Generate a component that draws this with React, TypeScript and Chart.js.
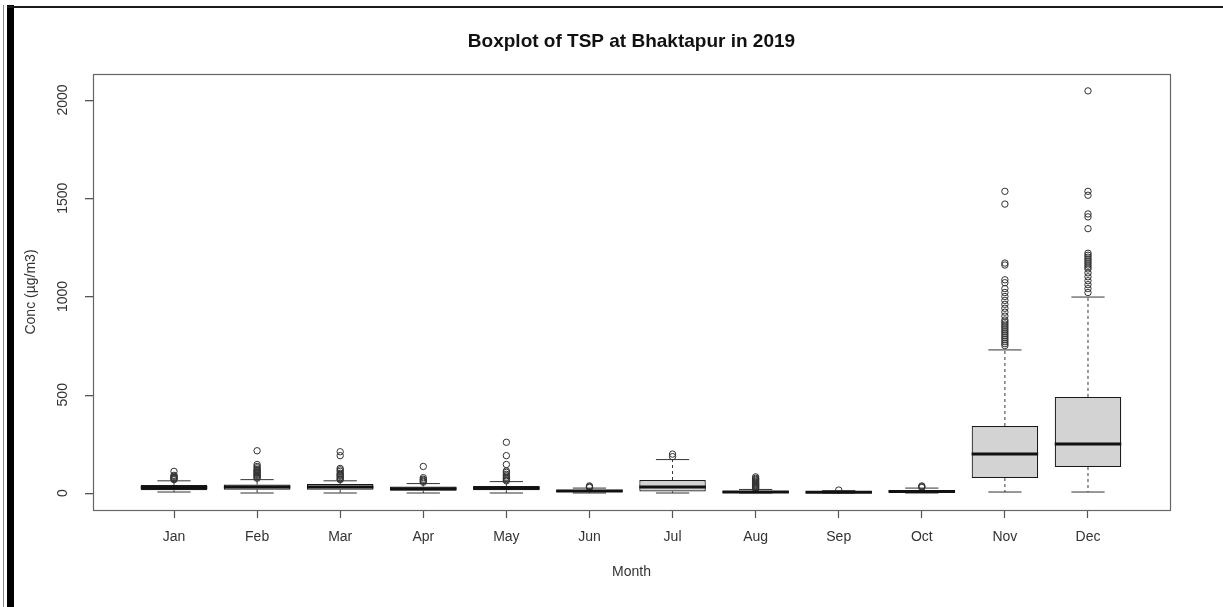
import { useEffect, useRef } from 'react';
import { Chart, registerables } from 'chart.js';

Chart.register(...registerables);

const months = ['Jan', 'Feb', 'Mar', 'Apr', 'May', 'Jun', 'Jul', 'Aug', 'Sep', 'Oct', 'Nov', 'Dec'];
const monthPositions = [1, 2, 3, 4, 5, 6, 7, 8, 9, 10, 11, 12];
const lowerWhisker = [5, 0, 0, 0, 0, 0, 0, 0, 0, 0, 5, 5];
const q1 = [14, 17, 17, 11, 14, 5, 8, 2, 2, 3, 76, 132];
const median = [28, 30, 30, 22, 25, 10, 30, 5, 4, 8, 198, 249];
const q3 = [41, 43, 46, 33, 36, 16, 66, 10, 8, 15, 341, 489];
const upperWhisker = [62, 68, 62, 48, 58, 25, 170, 18, 12, 25, 728, 997];
const outliers: number[][] = [
  [68, 72, 75, 80, 85, 90, 110],
  [75, 80, 85, 90, 95, 100, 105, 110, 115, 120, 128, 135, 145, 215],
  [68, 72, 78, 85, 90, 95, 100, 110, 118, 125, 190, 210],
  [55, 60, 65, 70, 78, 135],
  [62, 68, 75, 80, 88, 95, 105, 112, 145, 190, 258],
  [28, 32, 36],
  [185, 198],
  [22, 26, 30, 34, 38, 42, 46, 50, 55, 60, 65, 70, 75, 82],
  [15],
  [28, 32, 36],
  [1535, 1470, 1170, 1160, 1085, 1070, 1040, 1020, 1000, 980, 960, 940, 920, 900, 880, 870, 860, 850, 840, 830, 820, 810, 800, 790, 780, 770, 760, 750],
  [2046, 1535, 1515, 1420, 1405, 1345, 1220, 1210, 1200, 1190, 1180, 1170, 1160, 1150, 1140, 1120, 1100, 1080, 1060, 1040, 1020],
];
const yTicks = [0, 500, 1000, 1500, 2000];

const FONT = '"Liberation Sans", Arial, Helvetica, sans-serif';

const framePlugin = {
  id: 'frameDeco',
  beforeDraw(chart: any) {
    const { ctx, width, height } = chart;
    ctx.save();
    ctx.fillStyle = '#ffffff';
    ctx.fillRect(0, 0, width, height);
    ctx.fillStyle = '#8a8a8a';
    ctx.fillRect(3, 5, 1, height - 5);
    ctx.fillStyle = '#000000';
    ctx.fillRect(7, 5, 7, height - 5);
    ctx.fillStyle = '#1a1a1a';
    ctx.fillRect(7, 6, width - 7, 2);
    ctx.restore();
  },
  afterDraw(chart: any) {
    const ctx = chart.ctx;
    const area = chart.chartArea;
    const yScale = chart.scales.y;
    ctx.save();
    ctx.strokeStyle = '#666666';
    ctx.lineWidth = 1.2;
    ctx.strokeRect(area.left + 0.5, area.top + 0.5, area.right - area.left, area.bottom - area.top);
    ctx.fillStyle = '#555555';
    for (let k = 0; k < yTicks.length; k++) {
      const py = Math.round(yScale.getPixelForValue(yTicks[k]));
      ctx.fillRect(area.left - 8, py, 8, 1.3);
    }
    ctx.restore();
  },
};

const whiskerPlugin = {
  id: 'whiskers',
  afterDatasetsDraw(chart: any) {
    const { ctx, scales } = chart;
    const x = scales.x;
    const y = scales.y;
    const meta = chart.getDatasetMeta(0);
    ctx.save();
    ctx.beginPath();
    ctx.rect(chart.chartArea.left, chart.chartArea.top, chart.chartArea.right - chart.chartArea.left, chart.chartArea.bottom - chart.chartArea.top);
    ctx.clip();
    monthPositions.forEach((m, i) => {
      const bar = meta.data[i];
      const w = bar ? bar.width : 66;
      const cx = x.getPixelForValue(m);
      const pQ1 = y.getPixelForValue(q1[i]);
      const pQ3 = y.getPixelForValue(q3[i]);
      const pLo = y.getPixelForValue(lowerWhisker[i]);
      const pHi = y.getPixelForValue(upperWhisker[i]);
      const pMed = y.getPixelForValue(median[i]);
      ctx.strokeStyle = '#333333';
      ctx.lineWidth = 1;
      ctx.setLineDash([3, 3]);
      ctx.beginPath();
      ctx.moveTo(cx, pQ3);
      ctx.lineTo(cx, pHi);
      ctx.moveTo(cx, pQ1);
      ctx.lineTo(cx, pLo);
      ctx.stroke();
      ctx.setLineDash([]);
      ctx.beginPath();
      ctx.moveTo(cx - w / 4, pHi);
      ctx.lineTo(cx + w / 4, pHi);
      ctx.moveTo(cx - w / 4, pLo);
      ctx.lineTo(cx + w / 4, pLo);
      ctx.stroke();
      ctx.strokeStyle = '#111111';
      ctx.lineWidth = 3;
      ctx.beginPath();
      ctx.moveTo(cx - w / 2, pMed);
      ctx.lineTo(cx + w / 2, pMed);
      ctx.stroke();
    });
    ctx.restore();
  },
};

export default function App() {
  const ref = useRef<HTMLCanvasElement | null>(null);
  useEffect(() => {
    if (!ref.current) return;
    const boxData = monthPositions.map((m, i) => ({ x: m, y: [q1[i], q3[i]] }));
    const outlierData: { x: number; y: number }[] = [];
    outliers.forEach((arr, i) => arr.forEach((v) => outlierData.push({ x: monthPositions[i], y: v })));
    const chart = new Chart(ref.current, {
      type: 'bar',
      data: {
        datasets: [
          {
            type: 'bar',
            data: boxData as any,
            backgroundColor: '#d3d3d3',
            borderColor: '#1a1a1a',
            borderWidth: 1.2,
            borderSkipped: false,
            categoryPercentage: 1,
            barPercentage: 0.8,
          } as any,
          {
            type: 'scatter',
            data: outlierData as any,
            pointRadius: 3.2,
            pointBorderWidth: 1,
            borderColor: '#333333',
            backgroundColor: 'rgba(0,0,0,0)',
            pointStyle: 'circle',
          } as any,
        ],
      },
      plugins: [framePlugin, whiskerPlugin],
      options: {
        responsive: false,
        animation: false,
        layout: { padding: { left: 0, right: 53, top: 0, bottom: 0 } },
        plugins: {
          legend: { display: false },
          tooltip: { enabled: false },
          title: {
            display: true,
            text: 'Boxplot of TSP at Bhaktapur in 2019',
            fullSize: false,
            color: '#111111',
            font: { family: FONT, size: 19, weight: 'bold' },
            padding: { top: 30.6, bottom: 20.6 },
          },
        },
        scales: {
          x: {
            type: 'linear',
            min: 0.025,
            max: 12.987,
            offset: false,
            afterBuildTicks: (scale: any) => {
              scale.ticks = monthPositions.map((v) => ({ value: v }));
            },
            afterFit: (scale: any) => {
              scale.height = 97;
            },
            ticks: {
              callback: (v: any) => months[Number(v) - 1] ?? '',
              color: '#333333',
              font: { family: FONT, size: 14 },
              padding: 11,
              maxRotation: 0,
              minRotation: 0,
              autoSkip: false,
            },
            grid: { display: true, offset: false, drawOnChartArea: false, drawTicks: true, tickLength: 8, tickWidth: 1.2, color: '#555555' },
            border: { display: false },
            title: {
              display: true,
              text: 'Month',
              color: '#333333',
              font: { family: FONT, size: 14 },
              padding: { top: 0, bottom: 26 },
            },
          },
          y: {
            type: 'linear',
            min: -86.5,
            max: 2132,
            afterBuildTicks: (scale: any) => {
              scale.ticks = yTicks.map((v) => ({ value: v }));
            },
            afterFit: (scale: any) => {
              scale.width = 93;
            },
            ticks: {
              callback: (v: any) => String(v),
              color: '#333333',
              font: { family: FONT, size: 14 },
              minRotation: 90,
              maxRotation: 90,
              crossAlign: 'center',
              padding: 6,
            },
            grid: { display: false },
            border: { display: false },
            title: {
              display: true,
              text: 'Conc (µg/m3)',
              color: '#333333',
              font: { family: FONT, size: 14 },
              padding: { top: 23, bottom: 0 },
            },
          },
        },
      } as any,
    });
    return () => chart.destroy();
  }, []);
  return (
    <div style={{ position: 'fixed', left: 0, top: 0, width: 1223, height: 607 }}>
      <canvas ref={ref} width={1223} height={607} style={{ display: 'block' }} />
    </div>
  );
}
